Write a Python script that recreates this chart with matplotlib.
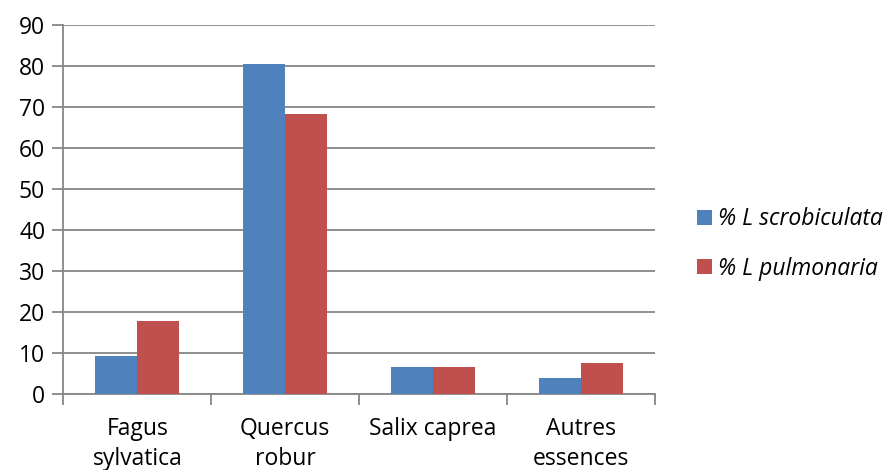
import matplotlib
matplotlib.use("Agg")
import matplotlib.pyplot as plt
import numpy as np
from matplotlib.patches import Patch

plt.rcParams['font.family'] = ['Open Sans', 'DejaVu Sans']

categories = ["Fagus\nsylvatica", "Quercus\nrobur", "Salix caprea", "Autres\nessences"]
series_names = ["% L scrobiculata", "% L pulmonaria"]
scrobiculata = [9.2, 80.3, 6.5, 3.9]
pulmonaria = [17.8, 68.1, 6.5, 7.5]
yticks = [0, 10, 20, 30, 40, 50, 60, 70, 80, 90]

colors = ["#4F81BD", "#C0504D"]
grid_c = "#868686"
fs = 16.5

fig = plt.figure(figsize=(8.93, 4.70), dpi=100)
ax = fig.add_axes([63.3/893, 1-393.7/470, (655-63.3)/893, (393.7-24.7)/470])

x = np.arange(len(categories))
w = 0.284
ax.bar(x - w/2, scrobiculata, width=w, color=colors[0], zorder=3)
ax.bar(x + w/2, pulmonaria, width=w, color=colors[1], zorder=3)

ax.set_xlim(-0.5, len(categories) - 0.5)
ax.set_ylim(0, 90)
ax.set_yticks(yticks)
ax.set_yticklabels([str(v) for v in yticks], fontsize=fs)
ax.yaxis.grid(True, color=grid_c, linewidth=1.3, zorder=0)
ax.set_axisbelow(True)

ax.set_xticks(x)
ax.set_xticklabels(categories, fontsize=fs, va='top', linespacing=1.3)
ax.tick_params(axis='x', length=0, pad=17)
ax.set_xticks(np.arange(-0.5, len(categories)), minor=True)
ax.tick_params(axis='x', which='minor', length=8, width=1.3, color=grid_c, direction='out')
ax.tick_params(axis='y', length=8, width=1.3, color=grid_c, direction='out', pad=5)

for s in ['top', 'right']:
    ax.spines[s].set_visible(False)
for s in ['left', 'bottom']:
    ax.spines[s].set_color(grid_c)
    ax.spines[s].set_linewidth(1.3)

handles = [Patch(facecolor=c, edgecolor='none') for c in colors]
fig.legend(handles, series_names, loc='center left', bbox_to_anchor=(697/893, 1-244/470),
           frameon=False, prop={'size': fs, 'style': 'italic'},
           handlelength=0.65, handleheight=0.65, handletextpad=0.28, labelspacing=1.1,
           borderpad=0, borderaxespad=0)

fig.savefig("out.png", dpi=100)
